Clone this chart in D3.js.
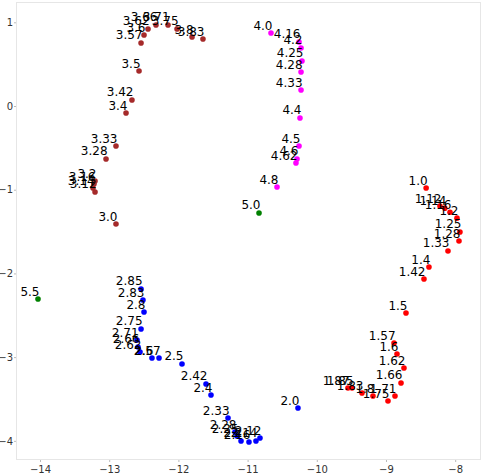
<!DOCTYPE html>
<html>
<head>
<meta charset="utf-8">
<script src="https://cdn.jsdelivr.net/npm/d3@7"></script>
<style>
  html, body { margin: 0; padding: 0; background: #fff; }
  svg { display: block; }
</style>
</head>
<body>
<svg id="chart" width="484" height="476"></svg>
<script>
// ---- data ----
const xTicks = [-14, -13, -12, -11, -10, -9, -8];
const yTicks = [1, 0, -1, -2, -3, -4];

const redLabels = ["1.0","1.12","1.14","1.16","1.2","1.25","1.28","1.33","1.4","1.42","1.5","1.57","1.6","1.62","1.66","1.71","1.75","1.8","1.83","1.85","1.87"];
const redX = [-8.42,-8.22,-8.15,-8.075,-7.974,-7.931,-7.945,-8.104,-8.379,-8.451,-8.711,-8.884,-8.841,-8.740,-8.783,-8.870,-8.971,-9.188,-9.347,-9.491,-9.549];
const redY = [-0.98,-1.195,-1.22,-1.27,-1.34,-1.505,-1.613,-1.732,-1.924,-2.067,-2.473,-2.832,-2.963,-3.130,-3.309,-3.465,-3.525,-3.465,-3.429,-3.369,-3.369];

const blueLabels = ["2.0","2.12","2.14","2.16","2.2","2.25","2.28","2.33","2.4","2.42","2.5","2.57","2.6","2.62","2.66","2.71","2.75","2.8","2.83","2.85"];
const blueX = [-10.272,-10.821,-10.879,-10.980,-11.095,-11.153,-11.182,-11.283,-11.529,-11.601,-11.948,-12.280,-12.382,-12.555,-12.584,-12.598,-12.540,-12.497,-12.512,-12.540];
const blueY = [-3.608,-3.967,-4.002,-4.014,-4.002,-3.943,-3.895,-3.728,-3.453,-3.321,-3.082,-3.011,-3.011,-2.939,-2.879,-2.796,-2.664,-2.461,-2.318,-2.186];

const brownLabels = ["3.0","3.12","3.14","3.16","3.2","3.28","3.33","3.4","3.42","3.5","3.57","3.6","3.62","3.66","3.71","3.75","3.8","3.83"];
const brownX = [-12.902,-13.205,-13.234,-13.220,-13.205,-13.046,-12.902,-12.757,-12.671,-12.569,-12.540,-12.497,-12.439,-12.324,-12.150,-12.020,-11.803,-11.645];
const brownY = [-1.410,-1.027,-0.980,-0.932,-0.896,-0.633,-0.478,-0.084,0.072,0.418,0.753,0.848,0.920,0.968,0.968,0.920,0.824,0.800];

const magentaLabels = ["4.0","4.16","4.2","4.25","4.28","4.33","4.4","4.5","4.6","4.62","4.8"];
const magentaX = [-10.662,-10.257,-10.228,-10.214,-10.228,-10.228,-10.243,-10.257,-10.286,-10.301,-10.575];
const magentaY = [0.872,0.765,0.693,0.538,0.406,0.191,-0.143,-0.478,-0.633,-0.681,-0.968];

const greenLabels = ["5.0","5.5"];
const greenX = [-10.835,-14.029];
const greenY = [-1.278,-2.306];

const seriesColors = ["#ff0000", "#0000ff", "#a52a2a", "#ff00ff", "#008000"];

// ---- build ----
const series = [
  {labels: redLabels, xs: redX, ys: redY},
  {labels: blueLabels, xs: blueX, ys: blueY},
  {labels: brownLabels, xs: brownX, ys: brownY},
  {labels: magentaLabels, xs: magentaX, ys: magentaY},
  {labels: greenLabels, xs: greenX, ys: greenY}
].map((s, i) => ({color: seriesColors[i], pts: s.labels.map((l, j) => ({label: l, x: s.xs[j], y: s.ys[j]}))}));

const svg = d3.select("#chart");
const pLeft = 16, pRight = 481, pTop = 2, pBottom = 460;
const x = d3.scaleLinear().domain([-14.347, -7.627]).range([pLeft, pRight]);
const y = d3.scaleLinear().domain([1.2425, -4.229]).range([pTop, pBottom]);

// frame
svg.append("rect")
  .attr("x", pLeft + 0.5).attr("y", pTop + 0.5)
  .attr("width", pRight - pLeft - 1).attr("height", pBottom - pTop - 1)
  .attr("fill", "none").attr("stroke", "#e6e6e6").attr("stroke-width", 1);

const fmt = d => d < 0 ? "\u2212" + Math.abs(d) : String(d);

// axes
const xAxis = d3.axisBottom(x).tickValues(xTicks).tickFormat(fmt).tickSize(2).tickPadding(4);
const gx = svg.append("g").attr("transform", `translate(0,${pBottom})`).call(xAxis);
const yAxis = d3.axisLeft(y).tickValues(yTicks).tickFormat(fmt).tickSize(2).tickPadding(1);
const gy = svg.append("g").attr("transform", `translate(${pLeft},0)`).call(yAxis);
[gx, gy].forEach(g => {
  g.select(".domain").remove();
  g.selectAll(".tick line").attr("stroke", "#bbbbbb");
  g.selectAll(".tick text").attr("fill", "#333").style("font-family", "DejaVu Sans").style("font-size", "10px");
});

// points and labels
const gs = svg.append("g");
series.forEach(s => {
  gs.selectAll(null).data(s.pts).enter().append("circle")
    .attr("cx", d => x(d.x)).attr("cy", d => y(d.y)).attr("r", 2.8)
    .attr("fill", s.color);
});
series.forEach(s => {
  gs.selectAll(null).data(s.pts).enter().append("text")
    .attr("x", d => x(d.x) + 1.5).attr("y", d => y(d.y) - 3.5)
    .attr("text-anchor", "end")
    .style("font-family", "DejaVu Sans").style("font-size", "12px")
    .attr("fill", "#000")
    .text(d => d.label);
});
</script>
</body>
</html>
